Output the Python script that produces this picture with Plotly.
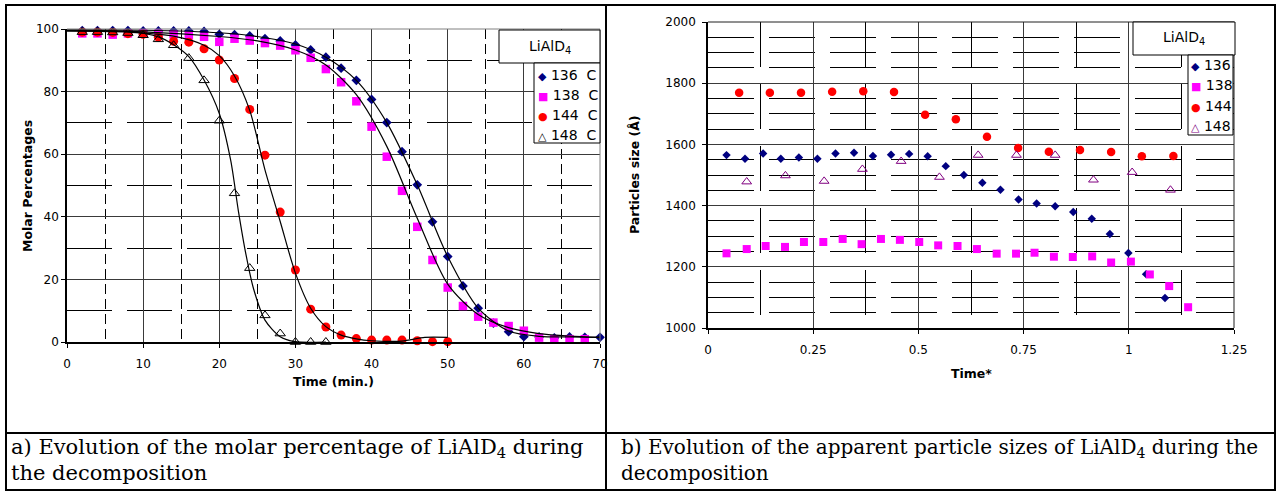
import plotly.graph_objects as go

# ---------------- data: panel a (molar percentage vs time) ----------------
time_136 = list(range(2, 71, 2))
pct_136 = [99.5, 99.5, 99.5, 99.5, 99.4, 99.4, 99.4, 99.4, 99.2, 98.3, 98.2, 97.8,
           96.9, 96.2, 94.9, 93.3, 91.0, 87.5, 83.6, 77.5, 70.1, 60.8, 50.2, 38.4,
           27.3, 17.9, 10.8, 6.0, 3.3, 1.7, 1.6, 1.3, 1.6, 1.5, 1.5]
time_138 = list(range(2, 69, 2))
pct_138 = [98.6, 98.6, 98.2, 98.6, 98.6, 98.5, 98.3, 98.0, 97.5, 95.9, 96.9, 96.3,
           95.5, 94.7, 93.2, 90.8, 87.2, 83.0, 76.9, 68.8, 59.2, 48.3, 36.8, 26.2,
           17.4, 11.5, 8.1, 6.2, 5.1, 3.6, 1.4, 0.9, 0.9, 0.9]
time_144 = list(range(2, 51, 2))
pct_144 = [99.0, 99.0, 98.9, 98.5, 98.3, 97.4, 96.1, 95.8, 93.7, 90.1, 84.2, 74.3,
           59.7, 41.5, 23.0, 10.5, 4.8, 2.2, 1.1, 0.6, 0.6, 0.6, 0.4, 0.1, 0.1]
time_148 = list(range(2, 35, 2))
pct_148 = [99.0, 99.0, 98.9, 98.7, 98.0, 96.7, 94.8, 90.7, 83.6, 70.7, 47.5, 23.6,
           8.5, 2.7, 0.0, 0.0, 0.0]

# fitted curves
fit_136_t = [0, 10, 20, 25, 30, 34, 38, 42, 46, 50, 54, 58, 62, 66, 70]
fit_136_v = [99.7, 99.6, 98.8, 97.6, 95.2, 91.0, 83.6, 70.1, 50.2, 27.3, 10.8, 3.5, 1.8, 1.6, 1.5]
fit_138_t = [0, 10, 20, 25, 30, 34, 38, 42, 46, 50, 54, 58, 62, 66, 70]
fit_138_v = [99.4, 99.1, 97.6, 96.2, 93.3, 88.5, 79.0, 62.5, 39.5, 18.5, 8.8, 4.6, 2.7, 1.9, 1.5]
fit_144_t = [0, 8, 14, 18, 20, 22, 24, 26, 28, 30, 32, 34, 36, 38, 40, 44, 47, 50]
fit_144_v = [99.4, 99.0, 97.7, 94.8, 91.5, 85.0, 74.0, 55.0, 38.5, 22.0, 10.8, 4.9, 2.2,
             1.0, 0.4, 0.3, 1.5, 1.5]
fit_148_t = [0, 8, 12, 14, 16, 18, 20, 21.5, 22.5, 23.5, 24.5, 26, 28, 30, 34]
fit_148_v = [99.6, 99.2, 97.5, 95.0, 91.2, 83.7, 73.0, 58.0, 42.0, 28.0, 17.0, 7.0, 1.7, 0.1, 0.0]

# ---------------- data: panel b (particle size vs reduced time) ----------------
tstar_136 = [0.044, 0.088, 0.131, 0.173, 0.216, 0.26, 0.303, 0.347, 0.392, 0.435, 0.478,
             0.522, 0.565, 0.608, 0.652, 0.695, 0.738, 0.781, 0.825, 0.868, 0.912, 0.955,
             0.999, 1.041, 1.086]
size_136 = [1565, 1553, 1570, 1553, 1557, 1553, 1570, 1573, 1562, 1566, 1569, 1561, 1529,
            1500, 1475, 1452, 1420, 1407, 1398, 1379, 1357, 1307, 1245, 1176, 1098]
tstar_138 = [0.044, 0.092, 0.137, 0.183, 0.228, 0.274, 0.32, 0.365, 0.411, 0.456, 0.502,
             0.547, 0.593, 0.639, 0.686, 0.732, 0.776, 0.822, 0.867, 0.913, 0.958, 1.005,
             1.05, 1.096, 1.141]
size_138 = [1244, 1258, 1268, 1265, 1281, 1281, 1291, 1274, 1291, 1288, 1281, 1270, 1268,
            1258, 1243, 1243, 1246, 1233, 1232, 1234, 1214, 1217, 1175, 1137, 1068]
tstar_144 = [0.074, 0.147, 0.221, 0.295, 0.369, 0.442, 0.516, 0.589, 0.663, 0.737, 0.81,
             0.884, 0.958, 1.031, 1.106]
size_144 = [1769, 1769, 1769, 1772, 1774, 1771, 1697, 1682, 1625, 1588, 1576, 1582, 1575,
            1561, 1562]
tstar_148 = [0.092, 0.184, 0.276, 0.367, 0.459, 0.55, 0.642, 0.733, 0.825, 0.916, 1.008, 1.099]
size_148 = [1478, 1498, 1480, 1519, 1545, 1493, 1565, 1565, 1565, 1484, 1509, 1451]

legend_a = ["136\u00a0\u00a0C", "138\u00a0\u00a0C", "144\u00a0\u00a0C", "148\u00a0\u00a0C"]
legend_b = ["136", "138", "144", "148"]
caption_a = ["a) Evolution of the molar percentage of LiAlD<sub>4</sub> during",
             "the decomposition"]
caption_b = ["b) Evolution of the apparent particle sizes of LiAlD<sub>4</sub> during the",
             "decomposition"]

# ---------------- styling ----------------
W, H = 1280, 491
NAVY, MAG, RED, PURP = "#000080", "#FF00FF", "#FF0000", "#800080"
SANS = "DejaVu Sans"
SERIF = "DejaVu Serif"


def px(x):
    return x / W


def py(y):
    return 1 - y / H


fig = go.Figure()

# panel a markers
fig.add_trace(go.Scatter(x=time_136, y=pct_136, mode="markers", xaxis="x", yaxis="y",
                         marker=dict(symbol="diamond", size=7.5, color=NAVY), cliponaxis=False))
fig.add_trace(go.Scatter(x=time_138, y=pct_138, mode="markers", xaxis="x", yaxis="y",
                         marker=dict(symbol="square", size=8.5, color=MAG), cliponaxis=False))
fig.add_trace(go.Scatter(x=time_144, y=pct_144, mode="markers", xaxis="x", yaxis="y",
                         marker=dict(symbol="circle", size=9, color=RED), cliponaxis=False))
fig.add_trace(go.Scatter(x=time_148, y=pct_148, mode="markers", xaxis="x", yaxis="y",
                         marker=dict(symbol="triangle-up-open", size=9, color="#000",
                                     line=dict(width=1)), cliponaxis=False))
# fitted curves
for ft, fv in [(fit_136_t, fit_136_v), (fit_138_t, fit_138_v),
               (fit_144_t, fit_144_v), (fit_148_t, fit_148_v)]:
    fig.add_trace(go.Scatter(x=ft, y=fv, mode="lines", xaxis="x", yaxis="y",
                             line=dict(color="#000", width=1.2, shape="spline", smoothing=0.8)))

# panel b markers
fig.add_trace(go.Scatter(x=tstar_136, y=size_136, mode="markers", xaxis="x2", yaxis="y2",
                         marker=dict(symbol="diamond", size=6.5, color=NAVY), cliponaxis=False))
fig.add_trace(go.Scatter(x=tstar_138, y=size_138, mode="markers", xaxis="x2", yaxis="y2",
                         marker=dict(symbol="square", size=8, color=MAG), cliponaxis=False))
fig.add_trace(go.Scatter(x=tstar_144, y=size_144, mode="markers", xaxis="x2", yaxis="y2",
                         marker=dict(symbol="circle", size=8.5, color=RED), cliponaxis=False))
fig.add_trace(go.Scatter(x=tstar_148, y=size_148, mode="markers", xaxis="x2", yaxis="y2",
                         marker=dict(symbol="triangle-up-open", size=8.5, color=PURP,
                                     line=dict(width=1)), cliponaxis=False))

tickfont = dict(family=SANS, size=12, color="#000")
common = dict(showline=True, linecolor="#000", linewidth=1.5, ticks="outside", ticklen=4,
              tickcolor="#000", tickfont=tickfont, zeroline=False, showgrid=True,
              gridcolor="#3a3a3a", gridwidth=1, automargin=False)

fig.update_layout(
    width=W, height=H, margin=dict(l=0, r=0, t=0, b=0, pad=0, autoexpand=False),
    paper_bgcolor="white", plot_bgcolor="white", showlegend=False,
    xaxis=dict(domain=[px(67), px(600)], range=[0, 70], dtick=10, tick0=0, anchor="y",
               ticklabelstandoff=6,
               minor=dict(dtick=5, showgrid=True, gridcolor="#000", griddash="10px,5px",
                          gridwidth=1), **common),
    yaxis=dict(domain=[py(342), py(29)], range=[0, 100], dtick=20, tick0=0, anchor="x",
               minor=dict(dtick=10, showgrid=True, gridcolor="#000", griddash="45px,15px",
                          gridwidth=1), **common),
    xaxis2=dict(domain=[px(708), px(1234)], range=[0, 1.25], dtick=0.25, tick0=0,
                anchor="y2", ticklabelstandoff=6,
                minor=dict(dtick=0.125, showgrid=True, gridcolor="#000",
                           griddash="45px,17px", gridwidth=1), **common),
    yaxis2=dict(domain=[py(328), py(22)], range=[1000, 2000], dtick=200, tick0=1000,
                anchor="x2", ticklabelstandoff=4,
                minor=dict(dtick=50, showgrid=True, gridcolor="#000", griddash="46px,15px",
                           gridwidth=1), **common),
)

shapes = []
# plot-area top/right borders
shapes.append(dict(type="line", xref="paper", yref="paper", x0=px(67), x1=px(600),
                   y0=py(29), y1=py(29), line=dict(color="#808080", width=1)))
shapes.append(dict(type="line", xref="paper", yref="paper", x0=px(600), x1=px(600),
                   y0=py(29), y1=py(342), line=dict(color="#808080", width=1)))
shapes.append(dict(type="line", xref="paper", yref="paper", x0=px(708), x1=px(1234),
                   y0=py(22), y1=py(22), line=dict(color="#202020", width=1)))
shapes.append(dict(type="line", xref="paper", yref="paper", x0=px(1234), x1=px(1234),
                   y0=py(22), y1=py(328), line=dict(color="#202020", width=1)))
# legend boxes
for (x0, x1, y0, y1) in [(499, 600, 30, 63), (534, 600, 63, 143),
                         (1133, 1235, 22, 55), (1188, 1233, 55, 135)]:
    shapes.append(dict(type="rect", xref="paper", yref="paper", x0=px(x0), x1=px(x1),
                       y0=py(y1), y1=py(y0), fillcolor="white",
                       line=dict(color="#000", width=1)))
# table frame
shapes.append(dict(type="rect", xref="paper", yref="paper", x0=px(6), x1=px(1275),
                   y0=py(490), y1=py(5), line=dict(color="#000", width=2)))
shapes.append(dict(type="line", xref="paper", yref="paper", x0=px(606), x1=px(606),
                   y0=py(490), y1=py(5), line=dict(color="#000", width=2)))
shapes.append(dict(type="line", xref="paper", yref="paper", x0=px(6), x1=px(1275),
                   y0=py(433), y1=py(433), line=dict(color="#000", width=2)))
fig.update_layout(shapes=shapes)

ann = []


def add_text(text, x, y, size, family=SANS, xanchor="center", angle=0, color="#000"):
    ann.append(dict(text=text, x=px(x), y=py(y), xref="paper", yref="paper",
                    xanchor=xanchor, yanchor="middle", showarrow=False, textangle=angle,
                    font=dict(family=family, size=size, color=color)))


# axis titles
add_text("<b>Time (min.)</b>", 333.5, 381, 12.5)
add_text("<b>Molar Percentages</b>", 27, 186, 12.5, angle=-90)
add_text("<b>Time*</b>", 971, 373, 12.5)
add_text("<b>Particles size (Å)</b>", 634, 175, 12.5, angle=-90)

# legend titles
add_text("LiAlD<sub>4</sub>", 549.5, 46.5, 14)
add_text("LiAlD<sub>4</sub>", 1184, 38.5, 14)

# legend entries
symbols = [("◆", NAVY), ("■", MAG), ("●", RED), ("△", "#000")]
for i, (lab, (sym, col)) in enumerate(zip(legend_a, symbols)):
    add_text('<span style="color:%s;font-size:11px">%s</span> %s' % (col, sym, lab),
             536, 75 + 20 * i, 14, xanchor="left")
symbols_b = [("◆", NAVY), ("■", MAG), ("●", RED), ("△", PURP)]
for i, (lab, (sym, col)) in enumerate(zip(legend_b, symbols_b)):
    add_text('<span style="color:%s;font-size:11px">%s</span> %s' % (col, sym, lab),
             1189, 65.5 + 20 * i, 14, xanchor="left")

# captions
add_text(caption_a[0], 9, 448, 21, family=SERIF, xanchor="left")
add_text(caption_a[1], 9, 473, 21, family=SERIF, xanchor="left")
add_text(caption_b[0], 619, 448, 20, family=SERIF, xanchor="left")
add_text(caption_b[1], 619, 473, 20, family=SERIF, xanchor="left")

fig.update_layout(annotations=ann)

fig.write_html("out.html")
